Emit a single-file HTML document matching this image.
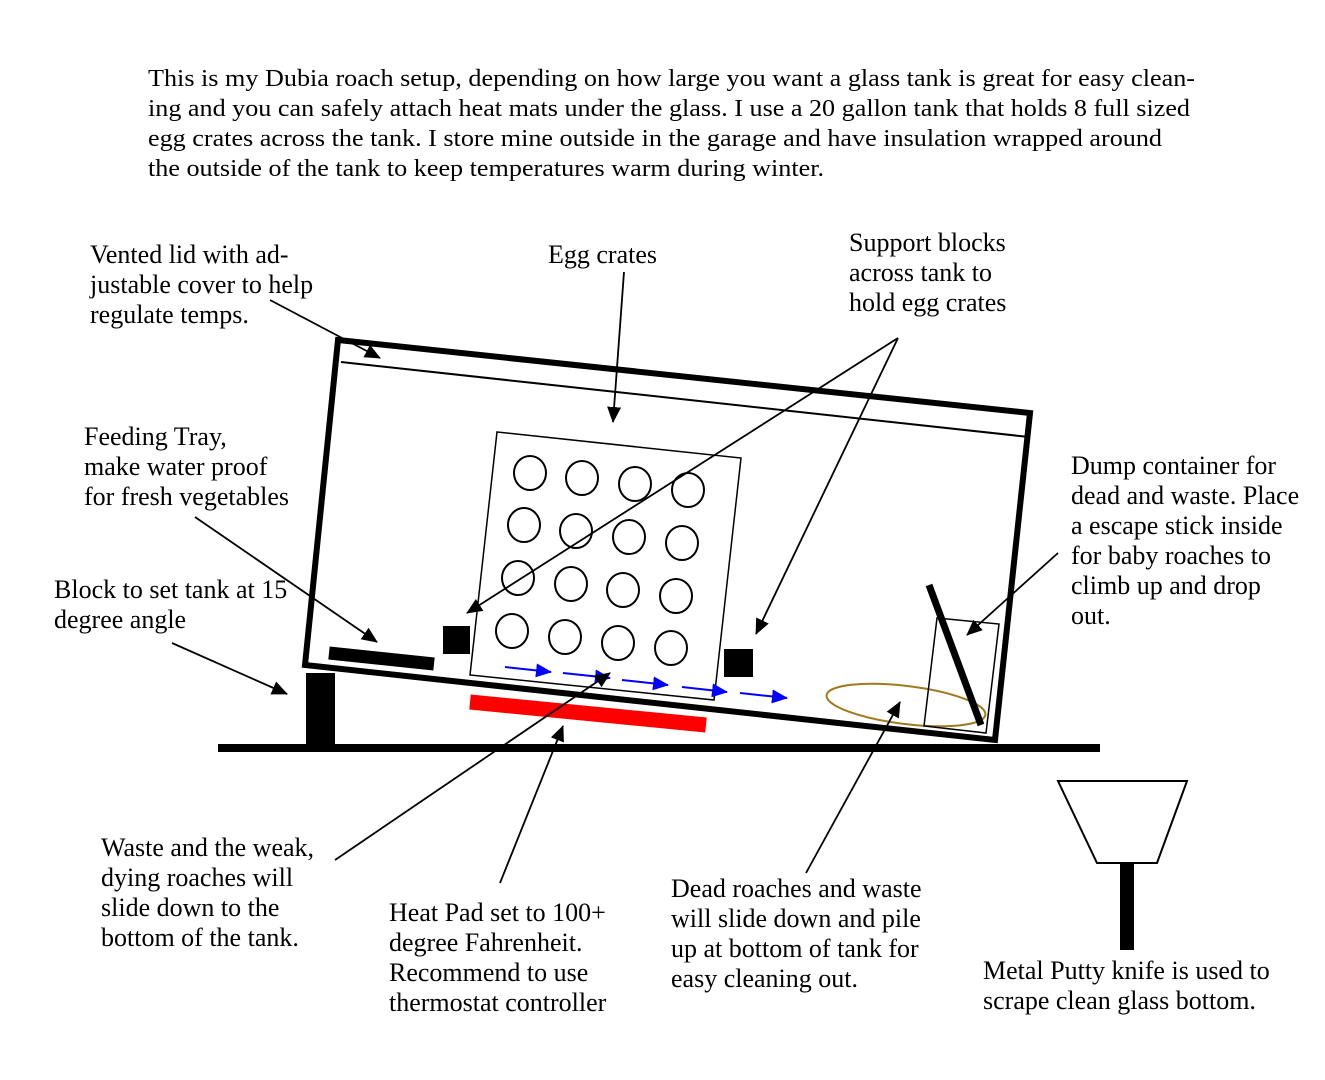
<!DOCTYPE html>
<html><head><meta charset="utf-8"><style>
html,body{margin:0;padding:0;background:#fff;}
svg{display:block;}
text{font-family:"Liberation Serif",serif;font-size:26px;fill:#000;}
text.h{font-size:24px;}
</style></head><body>
<svg width="1325" height="1080" viewBox="0 0 1325 1080" xmlns="http://www.w3.org/2000/svg">
<defs>
<marker id="ah" markerWidth="16" markerHeight="14" refX="15" refY="7" orient="auto" markerUnits="userSpaceOnUse" viewBox="0 0 16 14">
<path d="M0,0 L16,7 L0,14 z" fill="#000"/></marker>
<marker id="ahb" markerWidth="16" markerHeight="14" refX="15" refY="7" orient="auto" markerUnits="userSpaceOnUse" viewBox="0 0 16 14">
<path d="M0,0 L16,7 L0,14 z" fill="#00f"/></marker>
</defs>
<rect width="1325" height="1080" fill="#fff"/>
<text class="h" x="148" y="86" textLength="1047" lengthAdjust="spacingAndGlyphs">This is my Dubia roach setup, depending on how large you want a glass tank is great for easy clean-</text>
<text class="h" x="148" y="116" textLength="1042" lengthAdjust="spacingAndGlyphs">ing and you can safely attach heat mats under the glass. I use a 20 gallon tank that holds 8 full sized</text>
<text class="h" x="148" y="146" textLength="1014" lengthAdjust="spacingAndGlyphs">egg crates across the tank. I store mine outside in the garage and have insulation wrapped around</text>
<text class="h" x="148" y="176" textLength="676" lengthAdjust="spacingAndGlyphs">the outside of the tank to keep temperatures warm during winter.</text>

<text x="90" y="263">Vented lid with ad-</text>
<text x="90" y="293">justable cover to help</text>
<text x="90" y="323">regulate temps.</text>
<text x="548" y="263">Egg crates</text>
<text x="849" y="251">Support blocks</text>
<text x="849" y="281">across tank to</text>
<text x="849" y="311">hold egg crates</text>
<text x="84" y="445">Feeding Tray,</text>
<text x="84" y="475">make water proof</text>
<text x="84" y="505">for fresh vegetables</text>
<text x="54" y="598">Block to set tank at 15</text>
<text x="54" y="628">degree angle</text>
<text x="1071" y="474">Dump container for</text>
<text x="1071" y="504">dead and waste. Place</text>
<text x="1071" y="534">a escape stick inside</text>
<text x="1071" y="564">for baby roaches to</text>
<text x="1071" y="594">climb up and drop</text>
<text x="1071" y="624">out.</text>
<text x="101" y="856">Waste and the weak,</text>
<text x="101" y="886">dying roaches will</text>
<text x="101" y="916">slide down to the</text>
<text x="101" y="946">bottom of the tank.</text>
<text x="389" y="921">Heat Pad set to 100+</text>
<text x="389" y="951">degree Fahrenheit.</text>
<text x="389" y="981">Recommend to use</text>
<text x="389" y="1011">thermostat controller</text>
<text x="671" y="897">Dead roaches and waste</text>
<text x="671" y="927">will slide down and pile</text>
<text x="671" y="957">up at bottom of tank for</text>
<text x="671" y="987">easy cleaning out.</text>
<text x="983" y="979">Metal Putty knife is used to</text>
<text x="983" y="1009">scrape clean glass bottom.</text>

<rect x="218" y="744" width="882" height="8" fill="#000"/>
<rect x="306" y="673" width="29" height="71" fill="#000"/>
<line x1="470" y1="702" x2="706" y2="725" stroke="#f00" stroke-width="15"/>
<polygon points="338,340 1030,413 995,740 305,665" fill="none" stroke="#000" stroke-width="6"/>
<line x1="341" y1="362" x2="1029" y2="437" stroke="#000" stroke-width="2"/>
<polygon points="497,432 741,458 714,700 470,675" fill="none" stroke="#000" stroke-width="1.5"/>
<g fill="none" stroke="#000" stroke-width="2">
<ellipse cx="530" cy="473" rx="16" ry="17"/><ellipse cx="582" cy="478" rx="16" ry="17"/><ellipse cx="635" cy="484" rx="16" ry="17"/><ellipse cx="688" cy="490" rx="16" ry="17"/>
<ellipse cx="524" cy="525" rx="16" ry="17"/><ellipse cx="576" cy="531" rx="16" ry="17"/><ellipse cx="629" cy="537" rx="16" ry="17"/><ellipse cx="682" cy="543" rx="16" ry="17"/>
<ellipse cx="518" cy="578" rx="16" ry="17"/><ellipse cx="571" cy="584" rx="16" ry="17"/><ellipse cx="623" cy="590" rx="16" ry="17"/><ellipse cx="676" cy="596" rx="16" ry="17"/>
<ellipse cx="512" cy="631" rx="16" ry="17"/><ellipse cx="565" cy="637" rx="16" ry="17"/><ellipse cx="618" cy="643" rx="16" ry="17"/><ellipse cx="671" cy="648" rx="16" ry="17"/>
</g>
<line x1="329" y1="653" x2="434" y2="664" stroke="#000" stroke-width="13"/>
<rect x="443" y="626" width="27" height="28" fill="#000"/>
<rect x="724" y="649" width="29" height="28" fill="#000"/>
<g stroke="#00f" stroke-width="2" marker-end="url(#ahb)">
<line x1="505" y1="667" x2="551" y2="672"/>
<line x1="563" y1="673" x2="610" y2="678"/>
<line x1="622" y1="680" x2="668" y2="685"/>
<line x1="682" y1="687" x2="727" y2="692"/>
<line x1="740" y1="693" x2="787" y2="698"/>
</g>
<ellipse cx="906" cy="705" rx="80" ry="19" transform="rotate(7 906 705)" fill="none" stroke="#a07a1c" stroke-width="2"/>
<polygon points="937,618 999,624 986,733 924,726" fill="none" stroke="#000" stroke-width="1.5"/>
<line x1="929" y1="585" x2="981" y2="725" stroke="#000" stroke-width="7"/>
<g stroke="#000" stroke-width="1.8" marker-end="url(#ah)">
<line x1="270" y1="300" x2="380" y2="358"/>
<line x1="624" y1="272" x2="613" y2="422"/>
<line x1="898" y1="338" x2="467" y2="613"/>
<line x1="898" y1="338" x2="756" y2="634"/>
<line x1="195" y1="517" x2="377" y2="642"/>
<line x1="172" y1="643" x2="287" y2="694"/>
<line x1="1058" y1="553" x2="967" y2="635"/>
<line x1="335" y1="860" x2="610" y2="673"/>
<line x1="500" y1="883" x2="563" y2="726"/>
<line x1="806" y1="873" x2="900" y2="702"/>
</g>
<polygon points="1058,781 1187,781 1157,863 1097,863" fill="none" stroke="#000" stroke-width="2"/>
<rect x="1120" y="863" width="14" height="87" fill="#000"/>
</svg>
</body></html>
